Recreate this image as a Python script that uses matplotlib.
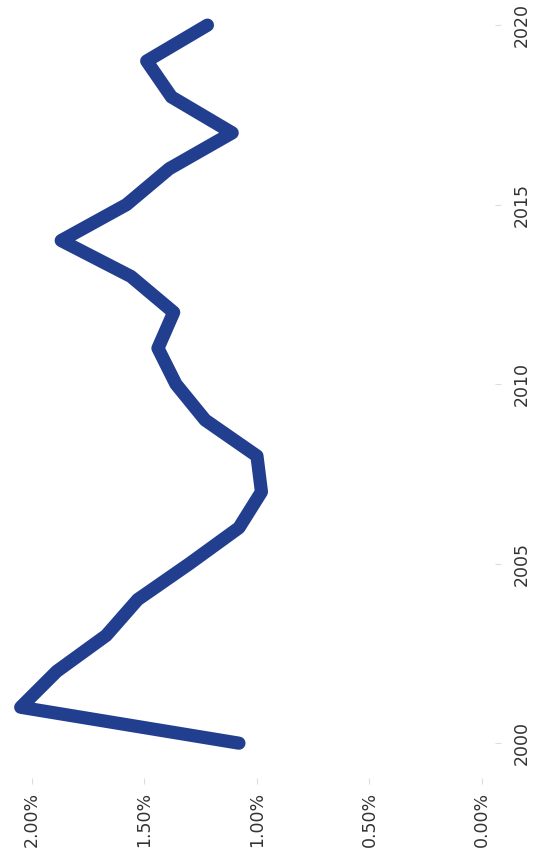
import matplotlib
matplotlib.use('Agg')
import matplotlib.pyplot as plt
from matplotlib.ticker import FuncFormatter

# 数据
years = list(range(2000, 2021))
rate_pct = [1.08, 2.05, 1.89, 1.67, 1.53, 1.30, 1.08, 0.98, 1.00, 1.23,
            1.36, 1.44, 1.37, 1.56, 1.87, 1.58, 1.39, 1.11, 1.38, 1.49, 1.22]
year_ticks = [2000, 2005, 2010, 2015, 2020]
pct_ticks = [0.0, 0.5, 1.0, 1.5, 2.0]

fig = plt.figure(figsize=(5.39, 8.67), dpi=100)
ax = fig.add_axes([0.0, 89 / 867, 495 / 539, 778 / 867])

# 整张图旋转 90 度：年份在纵轴，百分比在横轴（反向）
ax.plot(rate_pct, years, color='#223e8f', linewidth=9.5,
        solid_capstyle='round', solid_joinstyle='round')

ax.set_xlim(2.142, -0.058)
ax.set_ylim(1999.03, 2020.70)

ax.set_xticks(pct_ticks)
ax.xaxis.set_major_formatter(FuncFormatter(lambda v, p: f'{v:.2f}%'))
ax.set_yticks(year_ticks)

ax.yaxis.tick_right()
for s in ax.spines.values():
    s.set_visible(False)

ax.tick_params(axis='x', length=4, width=0.8, color='#dddddd', pad=6,
               labelsize=12.5, labelcolor='#333333', labelrotation=90)
ax.tick_params(axis='y', length=4, width=0.8, color='#dddddd', pad=9,
               labelsize=12.5, labelcolor='#333333', labelrotation=90)
for lbl in ax.get_yticklabels():
    lbl.set_verticalalignment('center')

fig.savefig('out.png', dpi=100)
